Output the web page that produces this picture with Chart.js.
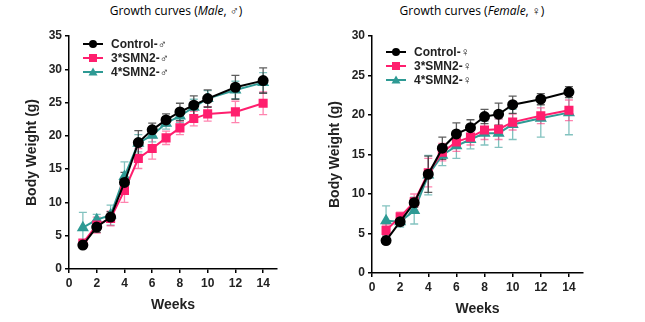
<!DOCTYPE html>
<html>
<head>
<meta charset="utf-8">
<script src="https://cdn.jsdelivr.net/npm/chart.js@4.4.1/dist/chart.umd.min.js"></script>
<style>
  body { margin: 0; background: #fff; }
  #wrap { position: relative; width: 645px; height: 322px; }
  .ttl { position: absolute; top: 2px; font: 12px "Open Sans", sans-serif; color: #000; white-space: nowrap; transform: translateX(-50%); }
  canvas { position: absolute; top: 0; }
</style>
</head>
<body>
<div id="wrap">
  <div class="ttl" style="left:176px">Growth curves (<i>Male</i>, ♂)</div>
  <div class="ttl" style="left:472px">Growth curves (<i>Female</i>, ♀)</div>
  <canvas id="male" width="322" height="322" style="left:0"></canvas>
  <canvas id="female" width="323" height="322" style="left:322px"></canvas>
</div>
<script>
// weeks measured
const weeks = [1, 2, 3, 4, 5, 6, 7, 8, 9, 10, 12, 14];
const xTicks = [0, 2, 4, 6, 8, 10, 12, 14];
const yTicksMale = [0, 5, 10, 15, 20, 25, 30, 35];
const yTicksFemale = [0, 5, 10, 15, 20, 25, 30];

// male mean / SD
const ctrlMale = [3.6, 6.3, 7.8, 13.0, 19.0, 20.9, 22.4, 23.6, 24.6, 25.6, 27.3, 28.3];
const ctrlMaleErr = [0.5, 0.8, 0.8, 1.5, 1.8, 1.0, 0.9, 1.3, 1.4, 1.3, 1.8, 1.9];
const smn3Male = [3.9, 6.6, 7.6, 11.8, 16.6, 18.1, 19.7, 21.2, 22.6, 23.3, 23.6, 24.9];
const smn3MaleErr = [0.5, 1.2, 1.1, 1.8, 1.5, 1.6, 1.0, 1.0, 1.1, 1.1, 1.6, 1.7];
const smn4Male = [6.2, 7.4, 8.1, 13.9, 18.9, 20.1, 21.9, 23.0, 24.3, 25.6, 26.9, 28.0];
const smn4MaleErr = [2.3, 0.8, 1.5, 2.2, 1.3, 1.0, 0.9, 1.0, 1.2, 1.2, 1.3, 1.5];

// female mean / SD
const ctrlFemale = [4.1, 6.5, 8.9, 12.5, 15.8, 17.6, 18.4, 19.8, 20.1, 21.3, 22.0, 22.9];
const ctrlFemaleErr = [0.4, 0.5, 0.6, 2.3, 1.4, 1.4, 1.0, 0.9, 1.4, 1.1, 0.7, 0.7];
const smn3Female = [5.4, 7.1, 9.0, 12.7, 15.3, 16.6, 17.2, 18.1, 18.2, 19.1, 19.9, 20.6];
const smn3FemaleErr = [0.7, 0.6, 1.0, 1.8, 1.1, 1.2, 1.0, 1.2, 1.3, 1.0, 1.0, 1.3];
const smn4Female = [6.6, 6.5, 7.9, 12.4, 14.9, 16.1, 16.9, 17.7, 17.7, 18.8, 19.6, 20.3];
const smn4FemaleErr = [1.9, 0.7, 1.7, 2.5, 1.3, 1.6, 1.2, 1.5, 1.8, 1.9, 2.4, 2.8];

const BLACK = "#000000";
const PINK = "#ff1f6e";
const TEAL = "#2e9a94";

function pts(ys) {
    return weeks.map((w, i) => ({ x: w, y: ys[i] }));
}

// error bars drawn behind the lines
const errorBars = {
    id: "errorBars",
    beforeDatasetsDraw(chart) {
        const ctx = chart.ctx;
        const xs = chart.scales.x, ys = chart.scales.y;
        for (let d = chart.data.datasets.length - 1; d >= 0; d--) {
            const ds = chart.data.datasets[d];
            ctx.save();
            ctx.strokeStyle = ds.errColor;
            ctx.lineWidth = 1.3;
            ds.data.forEach((p, i) => {
                const e = ds.err[i];
                const px = xs.getPixelForValue(p.x);
                const y1 = ys.getPixelForValue(p.y + e);
                const y2 = ys.getPixelForValue(p.y - e);
                ctx.beginPath();
                ctx.moveTo(px, y1); ctx.lineTo(px, y2);
                ctx.moveTo(px - 4, y1); ctx.lineTo(px + 4, y1);
                ctx.moveTo(px - 4, y2); ctx.lineTo(px + 4, y2);
                ctx.stroke();
            });
            ctx.restore();
        }
    }
};

// legend with line + marker like Prism
const lineLegend = {
    id: "lineLegend",
    afterDraw(chart, args, opts) {
        const ctx = chart.ctx;
        const left = chart.chartArea.left;
        const top = chart.chartArea.top;
        chart.data.datasets.forEach((ds, i) => {
            const y = top + opts.top + i * opts.gap;
            const x0 = left + 14, x1 = left + 34;
            ctx.save();
            ctx.strokeStyle = ds.borderColor;
            ctx.lineWidth = 2;
            ctx.beginPath(); ctx.moveTo(x0, y); ctx.lineTo(x1, y); ctx.stroke();
            ctx.fillStyle = ds.pointBackgroundColor;
            const c = (x0 + x1) / 2;
            if (ds.pointStyle === "circle") {
                ctx.beginPath(); ctx.arc(c, y, 4, 0, Math.PI * 2); ctx.fill();
            } else if (ds.pointStyle === "rect") {
                ctx.fillRect(c - 4, y - 4, 8, 8);
            } else {
                ctx.beginPath(); ctx.moveTo(c, y - 4.5); ctx.lineTo(c + 4.5, y + 3.5); ctx.lineTo(c - 4.5, y + 3.5); ctx.closePath(); ctx.fill();
            }
            ctx.fillStyle = "#222";
            ctx.font = "bold 12px 'Liberation Sans', Arial, sans-serif";
            ctx.textBaseline = "middle";
            ctx.fillText(ds.label, left + 42, y + 1);
            ctx.restore();
        });
    }
};

function makeChart(id, sets, yMax, yTicks, sym, lay) {
    const tickFont = { family: "'Liberation Sans', Arial, sans-serif", size: 12, weight: "bold" };
    const titleFont = { family: "'Liberation Sans', Arial, sans-serif", size: 14, weight: "bold" };
    const styles = [
        { name: "Control-" + sym, color: BLACK, pt: "circle", r: 4.5 },
        { name: "3*SMN2-" + sym, color: PINK, pt: "rect", r: 5 },
        { name: "4*SMN2-" + sym, color: TEAL, pt: "triangle", r: 5 }
    ];
    return new Chart(document.getElementById(id), {
        type: "line",
        data: {
            datasets: sets.map((s, i) => ({
                label: styles[i].name,
                data: pts(s[0]),
                err: s[1],
                errColor: i === 0 ? "rgba(40,40,40,0.75)" : (i === 1 ? "rgba(255,31,110,0.55)" : "rgba(46,154,148,0.6)"),
                borderColor: styles[i].color,
                backgroundColor: styles[i].color,
                pointBackgroundColor: styles[i].color,
                pointBorderColor: styles[i].color,
                pointStyle: styles[i].pt,
                pointRadius: styles[i].r,
                borderWidth: 2,
                tension: 0
            }))
        },
        options: {
            responsive: false,
            animation: false,
            layout: { padding: { left: 0, right: lay.right, top: lay.top, bottom: 0 } },
            plugins: {
                legend: { display: false },
                tooltip: { enabled: false },
                lineLegend: { top: lay.legTop, gap: 14 }
            },
            scales: {
                x: {
                    type: "linear",
                    min: 0, max: 15,
                    afterBuildTicks: (s) => { s.ticks = xTicks.map(v => ({ value: v })); },
                    afterFit: (s) => { s.height = lay.xh; },
                    border: { color: "#000", width: 1.5 },
                    grid: { drawOnChartArea: false, tickLength: 4, color: "#000", lineWidth: 1.5 },
                    ticks: { color: "#222", font: tickFont, padding: 3, maxRotation: 0, autoSkip: false },
                    title: { display: true, text: "Weeks", color: "#222", font: titleFont, padding: { top: 0, bottom: lay.xtp } }
                },
                y: {
                    min: 0, max: yMax,
                    afterBuildTicks: (s) => { s.ticks = yTicks.map(v => ({ value: v })); },
                    afterFit: (s) => { s.width = lay.yw; },
                    border: { color: "#000", width: 1.5 },
                    grid: { drawOnChartArea: false, tickLength: 4, color: "#000", lineWidth: 1.5 },
                    ticks: { color: "#222", font: tickFont, padding: 3, autoSkip: false },
                    title: { display: true, text: "Body Weight (g)", color: "#222", font: titleFont, padding: { top: lay.ytp, bottom: 0 } }
                }
            }
        },
        plugins: [errorBars, lineLegend]
    });
}

makeChart("male",
    [[ctrlMale, ctrlMaleErr], [smn3Male, smn3MaleErr], [smn4Male, smn4MaleErr]],
    35, yTicksMale, "♂",
    { right: 45, top: 36, xh: 53, yw: 69, xtp: 8, ytp: 24, legTop: 8 });

makeChart("female",
    [[ctrlFemale, ctrlFemaleErr], [smn3Female, smn3FemaleErr], [smn4Female, smn4FemaleErr]],
    30, yTicksFemale, "♀",
    { right: 62, top: 36, xh: 49, yw: 50, xtp: 4, ytp: 5, legTop: 16 });
</script>
</body>
</html>
